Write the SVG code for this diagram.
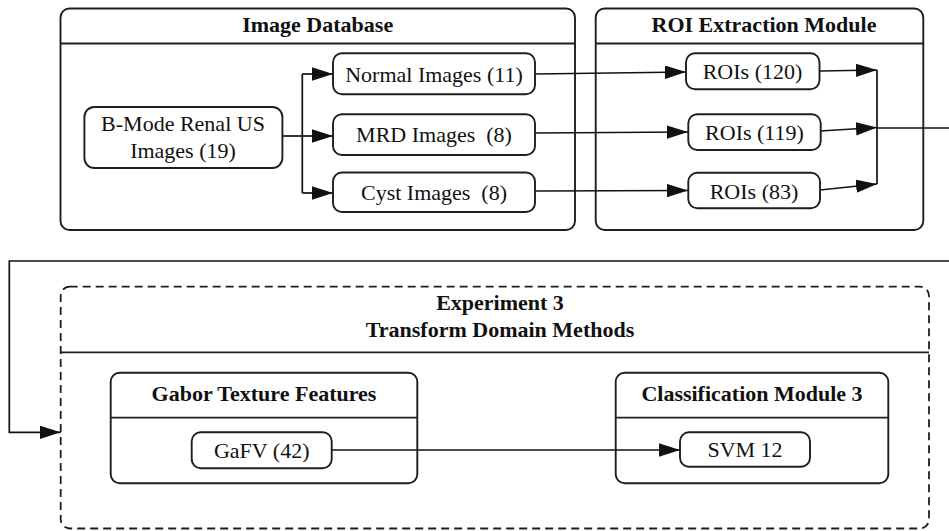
<svg xmlns="http://www.w3.org/2000/svg" width="949" height="531" viewBox="0 0 949 531" font-family="'Liberation Serif', 'Times New Roman', 'DejaVu Serif', serif">
<style>
.box{fill:#fff;stroke:#1e1e1e;stroke-width:1.9}
.cont{fill:none;stroke:#1e1e1e;stroke-width:1.9}
.dash{fill:none;stroke:#1e1e1e;stroke-width:1.8;stroke-dasharray:8 5}
.sep{stroke:#1e1e1e;stroke-width:1.8}
.conn{fill:none;stroke:#111;stroke-width:1.7}
.t{font-family:'Liberation Serif','Times New Roman','DejaVu Serif',serif;font-size:22px;fill:#111;text-anchor:middle}
.h{font-weight:bold}
.pre{white-space:pre}
</style>
<defs>
<marker id="arr" markerUnits="userSpaceOnUse" markerWidth="22" markerHeight="14" refX="21" refY="6.7" orient="auto">
<path d="M0,0 L21,6.7 L0,13.4 z" fill="#111"/>
</marker>
</defs>

<g id="image-database">
<rect class="cont" x="60.5" y="8.5" width="514.5" height="221.5" rx="9"/>
<line class="sep" x1="60.5" y1="43.5" x2="575" y2="43.5"/>
<text class="t h" x="317.7" y="32">Image Database</text>
</g>
<g id="roi-module">
<rect class="cont" x="595.7" y="8.5" width="327.6" height="221.5" rx="9"/>
<line class="sep" x1="595.7" y1="43.5" x2="923.3" y2="43.5"/>
<text class="t h" x="764" y="32">ROI Extraction Module</text>
</g>
<g id="experiment3">
<rect class="dash" x="60.7" y="286.7" width="868.3" height="241.8" rx="9"/>
<line class="sep" x1="60.7" y1="352.3" x2="929" y2="352.3"/>
<text class="t h" x="500" y="310">Experiment 3</text>
<text class="t h" x="500" y="337">Transform Domain Methods</text>
</g>
<g id="gabor">
<rect class="cont" x="110.7" y="372.7" width="306.6" height="110.6" rx="9"/>
<line class="sep" x1="110.7" y1="417.7" x2="417.3" y2="417.7"/>
<text class="t h" x="264" y="401">Gabor Texture Features</text>
</g>
<g id="classification">
<rect class="cont" x="615.7" y="372.7" width="272.6" height="110.6" rx="9"/>
<line class="sep" x1="615.7" y1="417.7" x2="888.3" y2="417.7"/>
<text class="t h" x="752" y="401">Classification Module 3</text>
</g>

<g id="connectors">
<polyline class="conn" points="282,136 302.3,136"/>
<polyline class="conn" points="302.3,74 302.3,193"/>
<line class="conn" x1="302.3" y1="74" x2="333" y2="74" marker-end="url(#arr)"/>
<line class="conn" x1="302.3" y1="136" x2="333" y2="136" marker-end="url(#arr)"/>
<line class="conn" x1="302.3" y1="193" x2="333" y2="193" marker-end="url(#arr)"/>
<line class="conn" x1="535" y1="74" x2="686" y2="72" marker-end="url(#arr)"/>
<line class="conn" x1="535" y1="133" x2="688" y2="132" marker-end="url(#arr)"/>
<line class="conn" x1="535" y1="191" x2="688" y2="190.5" marker-end="url(#arr)"/>
<line class="conn" x1="820" y1="71" x2="877" y2="70" marker-end="url(#arr)"/>
<line class="conn" x1="820" y1="131" x2="877" y2="127.5" marker-end="url(#arr)"/>
<line class="conn" x1="820" y1="190" x2="877" y2="184" marker-end="url(#arr)"/>
<line class="conn" x1="877" y1="70" x2="877" y2="184"/>
<line class="conn" x1="877" y1="128" x2="949" y2="128"/>
<polyline class="conn" points="949,261 9.3,261 9.3,432.3 60.7,432.3" marker-end="url(#arr)"/>
<line class="conn" x1="331.7" y1="450" x2="680" y2="450" marker-end="url(#arr)"/>
</g>

<g id="bmode">
<rect class="box" x="84.4" y="107" width="198" height="61" rx="10"/>
<text class="t" x="183" y="130.5">B-Mode Renal US</text>
<text class="t" x="183" y="157.5">Images (19)</text>
</g>
<g id="normal">
<rect class="box" x="333" y="53.3" width="202" height="41" rx="9"/>
<text class="t" x="434" y="81.5">Normal Images (11)</text>
</g>
<g id="mrd">
<rect class="box" x="333" y="114.3" width="202" height="40.7" rx="9"/>
<text class="t pre" x="434" y="142">MRD Images  (8)</text>
</g>
<g id="cyst">
<rect class="box" x="333" y="172.5" width="202" height="39.5" rx="9"/>
<text class="t pre" x="434" y="199.5">Cyst Images  (8)</text>
</g>
<g id="roi120">
<rect class="box" x="686" y="53.3" width="133.5" height="36" rx="9"/>
<text class="t" x="752.5" y="79">ROIs (120)</text>
</g>
<g id="roi119">
<rect class="box" x="688.3" y="114.3" width="132.4" height="35.7" rx="9"/>
<text class="t" x="754.5" y="140">ROIs (119)</text>
</g>
<g id="roi83">
<rect class="box" x="688.3" y="172.7" width="131.7" height="35.6" rx="9"/>
<text class="t" x="754" y="198.5">ROIs (83)</text>
</g>
<g id="gafv">
<rect class="box" x="191.7" y="432.3" width="140" height="36" rx="9"/>
<text class="t" x="261.7" y="458">GaFV (42)</text>
</g>
<g id="svm">
<rect class="box" x="680" y="432.3" width="130" height="34.5" rx="9"/>
<text class="t" x="745" y="456.5">SVM 12</text>
</g>
</svg>
